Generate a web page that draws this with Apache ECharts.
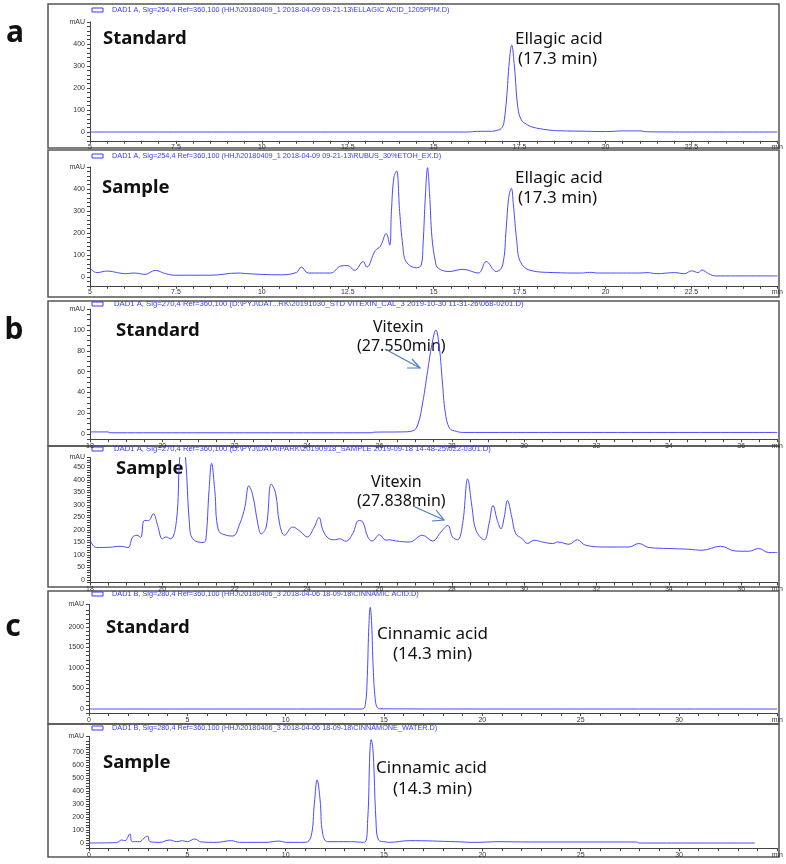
<!DOCTYPE html>
<html><head><meta charset="utf-8">
<script src="https://cdn.jsdelivr.net/npm/echarts@6/dist/echarts.min.js"></script>
<style>html,body{margin:0;padding:0;background:#fff}#c{width:786px;height:864px}</style>
</head><body><div id="c"></div>
<script>
// ---- a: Ellagic acid ----
const aStdTime   = [5, 8, 12, 15, 16.0, 16.28, 16.6, 16.9, 17.0, 17.05, 17.12, 17.2, 17.27, 17.35, 17.45, 17.55, 17.7, 17.88, 18.3, 18.6, 19.2, 20.0, 20.5, 21.0, 21.2, 22.5, 25];
const aStdSignal = [0, 0, 0, 0, 0, 3, 3, 10, 23, 50, 150, 320, 395, 295, 110, 55, 35, 22, 10, 6, 4, 2, 5, 5, 1, 0, 0];
const aSmpTime   = [5, 5.2, 5.5, 5.8, 6.0, 6.3, 6.6, 6.9, 7.2, 7.5, 8.5, 9.3, 9.6, 10.0, 10.5, 11.0, 11.15, 11.35, 12.0, 12.3, 12.5, 12.7, 12.95, 13.05, 13.3, 13.45, 13.62, 13.72, 13.77, 13.84, 13.92, 14.01, 14.1, 14.2, 14.5, 14.64, 14.69, 14.76, 14.82, 14.88, 14.95, 15.05, 15.13, 15.45, 15.85, 16.3, 16.53, 16.82, 17.0, 17.11, 17.18, 17.26, 17.32, 17.42, 17.52, 17.81, 18.5, 19.3, 19.53, 19.8, 20.5, 21.0, 21.2, 21.5, 22.0, 22.3, 22.5, 22.7, 22.8, 23.0, 23.2, 25];
const aSmpSignal = [40, 20, 27, 20, 15, 18, 12, 30, 15, 8, 8, 18, 15, 12, 10, 20, 45, 18, 18, 50, 52, 30, 70, 45, 120, 140, 198, 145, 297, 450, 482, 297, 145, 70, 42, 55, 145, 373, 497, 380, 180, 70, 40, 25, 35, 18, 70, 25, 50, 221, 357, 403, 327, 160, 70, 30, 20, 18, 21, 18, 18, 18, 20, 15, 20, 15, 28, 20, 32, 15, 5, 5];
// ---- b: Vitexin ----
const bStdTime   = [18, 18.5, 18.55, 22, 25.8, 25.85, 26.6, 26.92, 27.06, 27.2, 27.33, 27.45, 27.56, 27.66, 27.74, 27.82, 27.94, 28.13, 28.3, 37];
const bStdSignal = [2, 2, 1.2, 1.2, 1.2, 1.8, 2, 3, 8.7, 31, 60, 86, 100, 82, 50, 21, 5.5, 2.5, 1.5, 1.5];
const bSmpTime   = [18.0, 18.18, 18.55, 18.83, 19.05, 19.18, 19.3, 19.4, 19.5, 19.62, 19.75, 19.87, 20.0, 20.1, 20.23, 20.39, 20.48, 20.56, 20.64, 20.75, 20.84, 21.13, 21.2, 21.29, 21.36, 21.45, 21.55, 21.77, 21.95, 22.14, 22.28, 22.39, 22.5, 22.64, 22.73, 22.87, 23.01, 23.13, 23.24, 23.38, 23.6, 23.83, 24.0, 24.2, 24.33, 24.44, 24.61, 24.78, 24.9, 25.07, 25.26, 25.43, 25.54, 25.68, 25.8, 26.0, 26.18, 26.28, 26.45, 26.83, 27.19, 27.47, 27.7, 27.89, 28.02, 28.16, 28.3, 28.44, 28.56, 28.67, 28.9, 29.03, 29.14, 29.26, 29.36, 29.45, 29.54, 29.66, 29.77, 29.95, 30.09, 30.28, 30.51, 30.79, 30.93, 31.24, 31.47, 31.7, 32.25, 32.9, 33.17, 33.45, 34.0, 34.55, 34.92, 35.43, 35.84, 36.21, 36.48, 36.76, 37];
const bSmpSignal = [159, 130, 131, 135, 130, 172, 179, 170, 238, 238, 265, 218, 165, 172, 165, 238, 490, 560, 490, 225, 165, 150, 159, 357, 467, 357, 199, 179, 176, 225, 291, 377, 338, 225, 185, 212, 384, 347, 225, 179, 212, 192, 172, 212, 250, 199, 165, 161, 165, 155, 185, 238, 232, 172, 156, 181, 159, 161, 156, 152, 179, 156, 192, 218, 172, 161, 225, 404, 291, 199, 161, 225, 298, 238, 205, 251, 318, 251, 185, 165, 146, 159, 152, 146, 152, 143, 161, 139, 132, 132, 146, 130, 126, 123, 119, 135, 116, 115, 126, 110, 110];
// ---- c: Cinnamic acid ----
const cStdTime   = [0, 5, 10, 13.9, 14.05, 14.15, 14.22, 14.3, 14.37, 14.45, 14.55, 14.65, 14.8, 20, 35];
const cStdSignal = [0, 0, 0, 0, 100, 800, 1900, 2480, 2100, 1000, 250, 40, 5, 0, 0];
const cSmpTime   = [0, 1.4, 1.66, 1.83, 2.08, 2.2, 2.58, 2.79, 2.98, 3.1, 3.6, 4.1, 4.45, 4.75, 5.0, 5.37, 5.71, 6.47, 7.24, 7.66, 9.0, 9.68, 10.0, 11.0, 11.29, 11.46, 11.6, 11.75, 11.88, 12.14, 13.24, 14.0, 14.17, 14.28, 14.35, 14.45, 14.59, 14.72, 15.1, 15.26, 16.28, 18.65, 19.6, 20.84, 22.36, 27.85, 27.95, 33.86];
const cSmpSignal = [0, 3, 23, 18, 70, 10, 10, 36, 54, 10, 5, 23, 10, 18, 10, 31, 8, 5, 18, 5, 5, 15, 5, 5, 49, 306, 486, 332, 75, 10, 10, 5, 178, 692, 795, 692, 178, 23, 8, 5, 18, 10, 5, 10, 8, 8, 0, 0];

const headers = [
  'DAD1 A, Sig=254,4 Ref=360,100 (HHJ\\20180409_1 2018-04-09 09-21-13\\ELLAGIC ACID_1205PPM.D)',
  'DAD1 A, Sig=254,4 Ref=360,100 (HHJ\\20180409_1 2018-04-09 09-21-13\\RUBUS_30%ETOH_EX.D)',
  'DAD1 A, Sig=270,4 Ref=360,100 (D:\\PYJ\\DAT...RK\\20191030_STD VITEXIN_CAL_3 2019-10-30 11-31-26\\068-0201.D)',
  'DAD1 A, Sig=270,4 Ref=360,100 (D:\\PYJ\\DATA\\PARK\\20190918_SAMPLE 2019-09-18 14-48-25\\022-0301.D)',
  'DAD1 B, Sig=280,4 Ref=360,100 (HHJ\\20180406_3 2018-04-06 18-09-18\\CINNAMIC ACID.D)',
  'DAD1 B, Sig=280,4 Ref=360,100 (HHJ\\20180406_3 2018-04-06 18-09-18\\CINNAMONE_WATER.D)'
];

const panels = [
  {top:22,    height:118.8, left:90, width:688, xmin:5,  xmax:25, xint:0.5, xlab:2.5, ymin:-40,  ymax:500,  yint:20,  ylab:100, t:aStdTime, v:aStdSignal, box:[4,148],  hy:10,  hs:7.3, hx:112},
  {top:167,   height:118.8, left:90, width:688, xmin:5,  xmax:25, xint:0.5, xlab:2.5, ymin:-40,  ymax:500,  yint:20,  ylab:100, t:aSmpTime, v:aSmpSignal, box:[150,297], hy:156, hs:7.3, hx:112},
  {top:309.2, height:130,   left:90, width:688, xmin:18, xmax:37, xint:0.5, xlab:2,   ymin:-5,   ymax:120,  yint:5,   ylab:20,  t:bStdTime, v:bStdSignal, box:[301,446], hy:304, hs:7.7, hx:114},
  {top:457.5, height:125,   left:90, width:688, xmin:18, xmax:37, xint:0.5, xlab:2,   ymin:-10,  ymax:490,  yint:10,  ylab:50,  t:bSmpTime, v:bSmpSignal, box:[446,587], hy:449, hs:7.7, hx:114},
  {top:604.5, height:108.6, left:89, width:690, xmin:0,  xmax:35, xint:1,   xlab:5,   ymin:-100, ymax:2550, yint:100, ylab:500, t:cStdTime, v:cStdSignal, box:[591,724], hy:594, hs:7.3, hx:112},
  {top:736.4, height:111.8, left:89, width:690, xmin:0,  xmax:35, xint:1,   xlab:5,   ymin:-40,  ymax:820,  yint:20,  ylab:100, t:cSmpTime, v:cSmpSignal, box:[724,857], hy:728, hs:7.3, hx:112}
];

function isMult(v, m){ const r = v/m; return Math.abs(r - Math.round(r)) < 1e-6; }
const grids=[], xAxes=[], yAxes=[], series=[], graphics=[];
const axisColor = '#444';
panels.forEach((p,i)=>{
  grids.push({left:p.left, top:p.top, width:p.width, height:p.height});
  xAxes.push({type:'value', gridIndex:i, min:p.xmin, max:p.xmax, interval:p.xint,
    axisLine:{onZero:false, lineStyle:{color:axisColor, width:1}},
    axisTick:{length:3, lineStyle:{color:axisColor}},
    splitLine:{show:false},
    axisLabel:{fontSize:7, color:'#333', margin:3, fontFamily:'Liberation Sans', showMaxLabel:true, showMinLabel:true,
      formatter:(v)=> Math.abs(v-p.xmax)<1e-6 ? 'min' : (isMult(v,p.xlab) ? String(v) : '')}});
  yAxes.push({type:'value', gridIndex:i, min:p.ymin, max:p.ymax, interval:p.yint,
    axisLine:{show:true, onZero:false, lineStyle:{color:axisColor, width:1}},
    axisTick:{show:true, length:3, lineStyle:{color:axisColor}},
    splitLine:{show:false},
    axisLabel:{fontSize:7, color:'#333', margin:5, fontFamily:'Liberation Sans', showMaxLabel:true, showMinLabel:true,
      formatter:(v)=> Math.abs(v-p.ymax)<1e-6 ? 'mAU' : (isMult(v,p.ylab) && v>=0 ? String(v) : '')}});
  series.push({type:'line', xAxisIndex:i, yAxisIndex:i, data:p.t.map((x,k)=>[x,p.v[k]]),
    showSymbol:false, smooth:0.4, clip:true, animation:false,
    lineStyle:{color:'#4a4aff', width:1}});
  graphics.push({type:'rect', shape:{x:48, y:p.box[0], width:731, height:p.box[1]-p.box[0]},
    style:{fill:'none', stroke:'#555', lineWidth:1.5}, silent:true});
  graphics.push({type:'rect', shape:{x:92, y:p.hy-2, width:11, height:4},
    style:{fill:'none', stroke:'#3a3aff', lineWidth:1}});
  graphics.push({type:'text', style:{text:headers[i], x:p.hx, y:p.hy, fill:'#3a3aff',
    font:p.hs+'px "Liberation Sans"', textVerticalAlign:'middle', verticalAlign:'middle'}});
});

function txt(text, x, y, size, weight, align){
  return {type:'text', style:{text, x, y, fill:'#111', font:(weight||'normal')+' '+size+'px "Noto Sans"',
    textAlign:align||'left', align:align||'left', textVerticalAlign:'middle', verticalAlign:'middle'}};
}
graphics.push(txt('a', 15, 33, 30, 'bold', 'center'));
graphics.push(txt('b', 14, 330, 30, 'bold', 'center'));
graphics.push(txt('c', 13, 627, 30, 'bold', 'center'));
graphics.push(txt('Standard', 103, 39, 18.5, 'bold'));
graphics.push(txt('Sample', 102, 188, 18.5, 'bold'));
graphics.push(txt('Standard', 116, 331, 18.5, 'bold'));
graphics.push(txt('Sample', 116, 469, 18.5, 'bold'));
graphics.push(txt('Standard', 106, 628, 18.5, 'bold'));
graphics.push(txt('Sample', 103, 763, 18.5, 'bold'));
graphics.push(txt('Ellagic acid', 515, 39, 17));
graphics.push(txt('(17.3 min)', 518, 59, 17));
graphics.push(txt('Ellagic acid', 515, 178, 17));
graphics.push(txt('(17.3 min)', 518, 198, 17));
graphics.push(txt('Vitexin', 373, 327, 16));
graphics.push(txt('(27.550min)', 357, 346, 16));
graphics.push(txt('Vitexin', 371, 482, 16));
graphics.push(txt('(27.838min)', 357, 501, 16));
graphics.push(txt('Cinnamic acid', 377, 634, 17));
graphics.push(txt('(14.3 min)', 393, 654, 17));
graphics.push(txt('Cinnamic acid', 376, 768, 17));
graphics.push(txt('(14.3 min)', 393, 789, 17));
const arrowStyle = {stroke:'#4a7ebb', lineWidth:1.2, fill:'none'};
graphics.push({type:'line', shape:{x1:385, y1:349, x2:420, y2:368}, style:arrowStyle});
graphics.push({type:'polyline', shape:{points:[[407,368],[420,368],[412,359]]}, style:arrowStyle});
graphics.push({type:'line', shape:{x1:413, y1:506, x2:444, y2:520}, style:arrowStyle});
graphics.push({type:'polyline', shape:{points:[[432,521],[444,520],[436,510]]}, style:arrowStyle});

const chart = echarts.init(document.getElementById('c'));
chart.setOption({animation:false, backgroundColor:'#fff', grid:grids, xAxis:xAxes, yAxis:yAxes, series, graphic:graphics});
</script></body></html>
